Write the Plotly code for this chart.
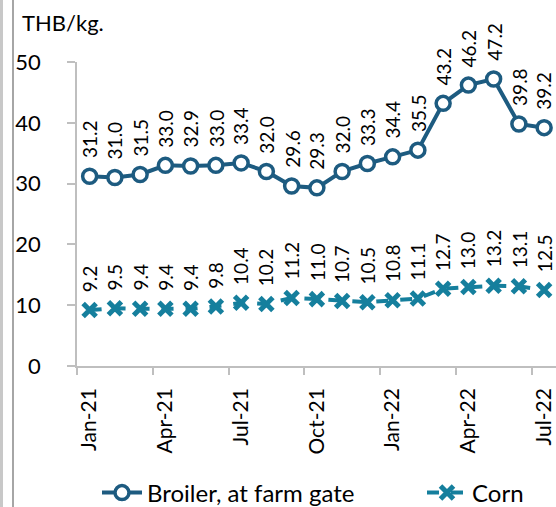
import plotly.graph_objects as go

months = ["Jan-21", "Feb-21", "Mar-21", "Apr-21", "May-21", "Jun-21", "Jul-21", "Aug-21",
          "Sep-21", "Oct-21", "Nov-21", "Dec-21", "Jan-22", "Feb-22", "Mar-22", "Apr-22",
          "May-22", "Jun-22", "Jul-22"]
broiler = [31.2, 31.0, 31.5, 33.0, 32.9, 33.0, 33.4, 32.0, 29.6, 29.3, 32.0, 33.3,
           34.4, 35.5, 43.2, 46.2, 47.2, 39.8, 39.2]
corn = [9.2, 9.5, 9.4, 9.4, 9.4, 9.8, 10.4, 10.2, 11.2, 11.0, 10.7, 10.5,
        10.8, 11.1, 12.7, 13.0, 13.2, 13.1, 12.5]
y_ticks = [0, 10, 20, 30, 40, 50]

FONT = "Lato"
C_BROILER = "#1D5B80"
C_CORN = "#157F9D"
GRAY = "#BFBFBF"

W, H = 556, 507
L, R, T, B = 77, 0, 62, 141
plot_w = W - L - R
plot_h = H - T - B
px_per_cat = 25.25

xs = list(range(len(months)))
fig = go.Figure()
fig.add_trace(go.Scatter(
    x=xs, y=broiler, name="Broiler, at farm gate", mode="lines+markers",
    line=dict(color=C_BROILER, width=4),
    marker=dict(symbol="circle", size=14, color="white", line=dict(color=C_BROILER, width=3.5)),
    cliponaxis=False, legend="legend",
))
fig.add_trace(go.Scatter(
    x=xs, y=corn, name="Corn", mode="lines+markers",
    line=dict(color=C_CORN, width=4, dash="dash"),
    marker=dict(symbol="x-thin", size=13, color=C_CORN, line=dict(color=C_CORN, width=5)),
    cliponaxis=False, legend="legend2",
))

for i in xs:
    for series in (broiler, corn):
        fig.add_annotation(
            x=i, y=series[i], xref="x", yref="y", text=f"{series[i]:.1f}",
            textangle=-90, showarrow=False, xanchor="center", yanchor="bottom",
            yshift=16, font=dict(family=FONT, size=19, color="#000000"),
        )

fig.add_annotation(x=(20 - L) / plot_w, y=(H - B - 22) / plot_h, xref="paper", yref="paper",
                   text="THB/kg.", showarrow=False, xanchor="left", yanchor="middle",
                   font=dict(family=FONT, size=22, color="#000000"))

# left frame lines
for px, col, w in [(1.5, "#C8C8C8", 3), (13, "#A6A6A6", 2)]:
    fig.add_shape(type="line", xref="paper", yref="paper",
                  x0=(px - L) / plot_w, x1=(px - L) / plot_w,
                  y0=-(B + 5) / plot_h, y1=(H - B + 5) / plot_h,
                  line=dict(color=col, width=w))

leg_y = (H - B - 493) / plot_h
leg_common = dict(orientation="h", y=leg_y, xanchor="left", yanchor="middle",
                  font=dict(family=FONT, size=24, color="#000000"),
                  bgcolor="rgba(0,0,0,0)", itemwidth=40)

fig.update_layout(
    width=W, height=H, margin=dict(l=L, r=R, t=T, b=B, autoexpand=False),
    paper_bgcolor="white", plot_bgcolor="white",
    font=dict(family=FONT, size=20, color="#000000"),
    showlegend=True,
    legend=dict(x=(97 - L) / plot_w, **leg_common),
    legend2=dict(x=(422 - L) / plot_w, **leg_common),
    xaxis=dict(range=[-0.5, -0.5 + plot_w / px_per_cat], tickvals=xs[::3],
               ticktext=months[::3], tickangle=-90, ticks="", showgrid=False,
               zeroline=False, showline=True, linecolor=GRAY, linewidth=1.5,
               tickfont=dict(family=FONT, size=21), ticklabeloverflow="allow",
               minor=dict(ticks="outside", ticklen=7, tickcolor=GRAY, tickwidth=1.5,
                          tick0=-0.5, dtick=3, showgrid=False),
               ticklabelstandoff=12),
    yaxis=dict(range=[0, 50], tickvals=y_ticks, ticks="outside", ticklen=8,
               tickcolor=GRAY, tickwidth=1.5, showgrid=False, zeroline=False,
               showline=True, linecolor=GRAY, linewidth=1.5,
               tickfont=dict(family=FONT, size=22), ticklabelstandoff=22),
)

fig.write_html("out.html", config={"displayModeBar": False},
               post_script="document.body.style.margin='0';document.body.style.padding='0';")
